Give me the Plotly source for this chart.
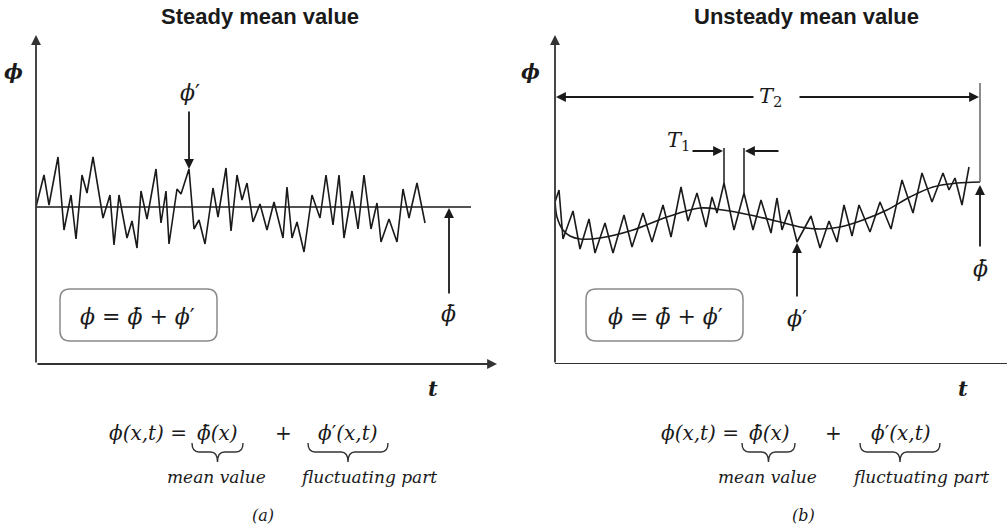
import plotly.graph_objects as go

W, H = 1007, 529

# ---- Steady case: sampled signal phi(t) fluctuating about a constant mean ----
steady_t = [0, 8, 13, 22, 28, 35, 40, 46, 51, 57, 67, 74, 78, 83, 91, 96, 101, 105, 111, 120,
            125, 130, 133, 141, 145, 153, 158, 163, 169, 177, 182, 190, 195, 201, 206, 211, 217, 224, 231, 238,
            247, 251, 256, 261, 268, 276, 284, 290, 297, 303, 308, 316, 322, 328, 335, 341, 345, 353, 361, 367,
            373, 381, 389]
steady_phi = [157, 189, 159, 207, 134, 169, 125, 189, 171, 207, 146, 169, 119, 169, 126, 143, 116, 173, 145, 195,
              141, 173, 120, 175, 170, 195, 135, 144, 120, 176, 147, 196, 133, 189, 164, 181, 142, 160, 134, 162,
              126, 177, 126, 142, 112, 169, 146, 189, 139, 189, 126, 173, 135, 189, 135, 161, 122, 145, 122, 175,
              146, 181, 141]
steady_mean = 157
steady_mean_span = [0, 435]

# ---- Unsteady case: fast fluctuation riding on a slowly varying mean ----
unsteady_t = [0, 4, 8, 18, 25, 34, 40, 50, 58, 69, 77, 88, 97, 108, 116, 126, 133, 142, 151, 157,
              162, 169, 179, 189, 198, 206, 216, 222, 227, 234, 242, 256, 265, 274, 282, 289, 297, 304, 315, 325,
              336, 347, 358, 367, 377, 388, 394, 400, 407, 414]
unsteady_phi = [162, 174, 125, 153, 115, 145, 111, 141, 111, 149, 117, 151, 122, 159, 127, 177, 143, 171, 137, 167,
                151, 181, 134, 171, 134, 164, 131, 166, 134, 154, 122, 148, 116, 143, 122, 159, 128, 159, 132, 162,
                135, 184, 151, 191, 162, 191, 174, 186, 159, 197]
mean_t = [0, 2, 8, 15, 25, 45, 78, 112, 145, 168, 195, 225, 245, 265, 285, 308, 332, 355, 378, 402, 425]
mean_phi = [164, 147, 134, 128, 125, 126, 134, 147, 156, 154, 149, 142, 137, 135, 137, 144, 154, 167, 177, 181, 182]

# Periods marked on the unsteady plot
T1_marks = [169, 189]          # two neighbouring peaks
T1_peak_phi = [181, 171]
T2_end = 425
phi_prime_t, phi_prime_phi = 242, 120
phi_bar_t, phi_bar_phi = 425, 179

INK = "#1a1a1a"
AXIS = "#333333"
SERIF = "DejaVu Serif, Liberation Serif, serif"
SANS = "Liberation Sans, Arial, sans-serif"


def px(x):
    return x / W


def py(y):
    return 1 - y / H


fig = go.Figure()
fig.add_trace(go.Scatter(x=steady_t, y=steady_phi, mode="lines",
                         line=dict(color=INK, width=1.6), xaxis="x", yaxis="y"))
fig.add_trace(go.Scatter(x=steady_mean_span, y=[steady_mean] * 2, mode="lines",
                         line=dict(color=INK, width=1.6), xaxis="x", yaxis="y"))
fig.add_trace(go.Scatter(x=unsteady_t, y=unsteady_phi, mode="lines",
                         line=dict(color=INK, width=1.6), xaxis="x2", yaxis="y2"))
fig.add_trace(go.Scatter(x=mean_t, y=mean_phi, mode="lines", line_shape="spline",
                         line=dict(color=INK, width=1.6, smoothing=1.0), xaxis="x2", yaxis="y2"))

ann = []
shapes = []


def arrow(ax_id, tip, tail, color=INK, width=1.8):
    xr = "x" if ax_id == 1 else "x2"
    yr = "y" if ax_id == 1 else "y2"
    ann.append(dict(x=tip[0], y=tip[1], ax=tail[0], ay=tail[1], xref=xr, yref=yr,
                    axref=xr, ayref=yr, text="", showarrow=True, arrowhead=2,
                    arrowsize=1.1, arrowwidth=width, arrowcolor=color, standoff=0))


def label(text, x, y, size, family=SERIF, xref="paper", yref="paper", xanchor="center", color=INK):
    ann.append(dict(text=text, x=x, y=y, xref=xref, yref=yref, showarrow=False,
                    xanchor=xanchor, yanchor="middle", font=dict(family=family, size=size, color=color)))


def vline(ax_id, t, y0, y1, color=INK, width=1.5):
    xr = "x" if ax_id == 1 else "x2"
    yr = "y" if ax_id == 1 else "y2"
    shapes.append(dict(type="line", xref=xr, yref=yr, x0=t, x1=t, y0=y0, y1=y1,
                       line=dict(color=color, width=width)))


def brace(x0, x1, ytop, ymid, ytip, r=7):
    xm = (x0 + x1) / 2
    pts = (f"M {px(x0)},{py(ytop)} Q {px(x0)},{py(ymid)} {px(x0 + r)},{py(ymid)} "
           f"L {px(xm - r)},{py(ymid)} Q {px(xm)},{py(ymid)} {px(xm)},{py(ytip)} "
           f"Q {px(xm)},{py(ymid)} {px(xm + r)},{py(ymid)} "
           f"L {px(x1 - r)},{py(ymid)} Q {px(x1)},{py(ymid)} {px(x1)},{py(ytop)}")
    shapes.append(dict(type="path", xref="paper", yref="paper", path=pts,
                       line=dict(color="#333", width=1.4)))


def round_box(x0, y0, x1, y1, r=10):
    p = (f"M {px(x0 + r)},{py(y0)} L {px(x1 - r)},{py(y0)} Q {px(x1)},{py(y0)} {px(x1)},{py(y0 + r)} "
         f"L {px(x1)},{py(y1 - r)} Q {px(x1)},{py(y1)} {px(x1 - r)},{py(y1)} "
         f"L {px(x0 + r)},{py(y1)} Q {px(x0)},{py(y1)} {px(x0)},{py(y1 - r)} "
         f"L {px(x0)},{py(y0 + r)} Q {px(x0)},{py(y0)} {px(x0 + r)},{py(y0)} Z")
    shapes.append(dict(type="path", xref="paper", yref="paper", path=p,
                       line=dict(color="#8a8a8a", width=1.5)))


PHI = "\u03d5"
PHIBAR = "\u03d5\u0304"
PRIME = "\u2032"
PHIP = f"<i>{PHI}</i>{PRIME}"   # phi with an upright prime

# --- panel (a): axes ---
arrow(1, (0, 329), (0, 0), color=AXIS)
arrow(1, (461, 0), (0, 0), color=AXIS)
# phi' and phi-bar pointers
arrow(1, (153, 195), (153, 254))
arrow(1, (413, 156), (413, 69))
label(PHIP, 154, 271, 22, xref="x", yref="y")
label(f"<i>{PHIBAR}</i>", 412, 51, 22, xref="x", yref="y")

# --- panel (b): axes ---
arrow(2, (0, 329), (0, 0), color=AXIS)
shapes.append(dict(type="line", xref="x2", yref="y2", x0=0, x1=452, y0=0, y1=0,
                   line=dict(color=AXIS, width=2)))
# T2 span
vline(2, T2_end, mean_phi[-1], 281, color="#666", width=1.5)
arrow(2, (1, 267), (200, 267))
arrow(2, (T2_end - 1, 267), (243, 267))
label("<i>T</i><sub>2</sub>", 215, 267, 21, xref="x2", yref="y2")
# T1 span
vline(2, T1_marks[0], T1_peak_phi[0], 216)
vline(2, T1_marks[1], T1_peak_phi[1], 216)
arrow(2, (T1_marks[0] - 1, 213), (136, 213))
arrow(2, (T1_marks[1] + 1, 213), (225, 213))
label("<i>T</i><sub>1</sub>", 123, 223, 21, xref="x2", yref="y2")
# phi' and phi-bar pointers
arrow(2, (phi_prime_t, phi_prime_phi + 1), (phi_prime_t, 66))
arrow(2, (phi_bar_t, phi_bar_phi), (phi_bar_t, 116))
label(PHIP, 242, 46, 22, xref="x2", yref="y2")
label(f"<i>{PHIBAR}</i>", 425, 96, 22, xref="x2", yref="y2")

# --- titles, axis letters ---
label("<b>Steady mean value</b>", px(260), py(17), 22, family=SANS)
label("<b>Unsteady mean value</b>", px(806), py(17), 22, family=SANS)
for cx in (13, 530):
    label(f"<b><i>{PHI}</i></b>", px(cx), py(72), 20)
for cx in (433, 963):
    label("<b><i>t</i></b>", px(cx), py(388), 21)

# --- decomposition boxes ---
for x0, cx in ((60, 137), (586, 665)):
    round_box(x0, 289, x0 + 157, 341)
    label(f"<i>{PHI}</i> = <i>{PHIBAR}</i> + {PHIP}", px(cx), py(316), 22)

# --- bottom equations with braces ---
for (eq_r, bar_c, plus_c, fl_c, b1, b2, mv_c, fp_c, cap_c, cap) in (
        (189, 217, 283, 347, (192, 243), (308, 388), 216, 368, 263, "(a)"),
        (741, 769, 833, 900, (742, 795), (860, 940), 767, 920, 803, "(b)")):
    label(f"<i>{PHI}(x,t)</i> =", px(eq_r), py(433), 20, xanchor="right")
    label(f"<i>{PHIBAR}(x)</i>", px(bar_c), py(433), 20)
    label("+", px(plus_c), py(433), 20)
    label(f"{PHIP}<i>(x,t)</i>", px(fl_c), py(433), 20)
    brace(b1[0], b1[1], 443, 452, 462)
    brace(b2[0], b2[1], 443, 452, 462)
    label("<i>mean value</i>", px(mv_c), py(477), 17)
    label("<i>fluctuating part</i>", px(fp_c), py(477), 17)
    label(f"<i>{cap}</i>", px(cap_c), py(515), 16)

hidden = dict(visible=False, fixedrange=True)
fig.update_layout(
    width=W, height=H, margin=dict(l=0, r=0, t=0, b=0),
    paper_bgcolor="white", plot_bgcolor="rgba(0,0,0,0)", showlegend=False,
    xaxis=dict(domain=[px(36), px(497)], range=[0, 461], anchor="y", **hidden),
    yaxis=dict(domain=[py(364), py(35)], range=[0, 329], anchor="x", **hidden),
    xaxis2=dict(domain=[px(555), 1.0], range=[0, 452], anchor="y2", **hidden),
    yaxis2=dict(domain=[py(364), py(35)], range=[0, 329], anchor="x2", **hidden),
    annotations=ann, shapes=shapes,
)
fig.write_html("out.html")
